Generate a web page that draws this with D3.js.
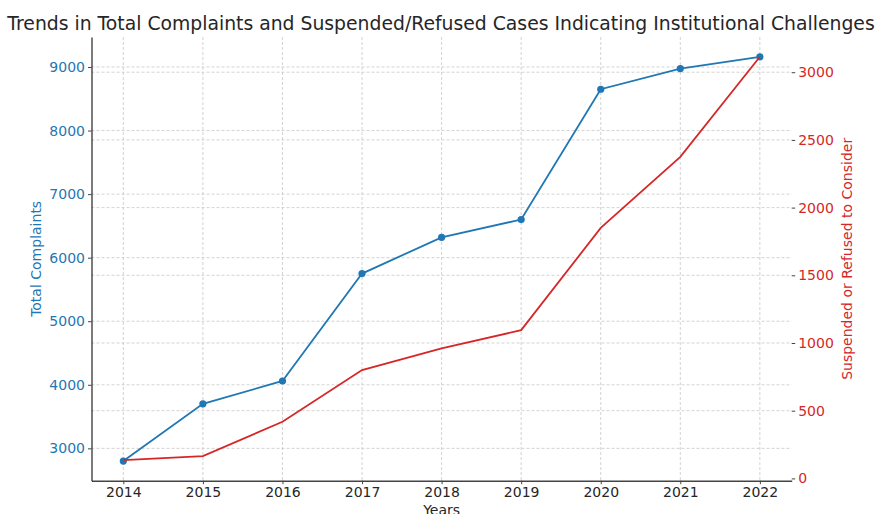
<!DOCTYPE html>
<html>
<head>
<meta charset="utf-8">
<script src="https://cdn.jsdelivr.net/npm/d3@7"></script>
<style>
  body { margin: 0; background: #fff; }
  svg { display: block; font-family: "DejaVu Sans", sans-serif; }
</style>
</head>
<body>
<svg id="chart" width="876" height="514"></svg>
<script>
const years = [2014, 2015, 2016, 2017, 2018, 2019, 2020, 2021, 2022];
const totalComplaints = [2800, 3700, 4060, 5750, 6320, 6600, 8650, 8975, 9160];
const suspendedRefused = [135, 165, 418, 800, 960, 1095, 1850, 2375, 3114];
const leftTicks = [3000, 4000, 5000, 6000, 7000, 8000, 9000];
const rightTicks = [0, 500, 1000, 1500, 2000, 2500, 3000];
const titleText = "Trends in Total Complaints and Suspended/Refused Cases Indicating Institutional Challenges";
const xLabel = "Years";
const leftLabel = "Total Complaints";
const rightLabel = "Suspended or Refused to Consider";

const blue = "#1f77b4", red = "#d62728";
const L = 91.5, R = 791.7, T = 37, B = 480.7;
const svg = d3.select("#chart");

const x = d3.scaleLinear().domain([2013.6, 2022.4]).range([L, R]);
const yL = d3.scaleLinear().domain([2491, 9472]).range([B, T]);
const yR = d3.scaleLinear().domain([-17, 3260]).range([B, T]);

// grids
const grid = svg.append("g").attr("stroke", "#c8c8c8").attr("stroke-width", 0.8).attr("stroke-dasharray", "3,2");
grid.selectAll("line.v").data(years).join("line")
  .attr("x1", d => x(d)).attr("x2", d => x(d)).attr("y1", T).attr("y2", B);
grid.selectAll("line.hl").data(leftTicks).join("line")
  .attr("x1", L).attr("x2", R).attr("y1", d => yL(d)).attr("y2", d => yL(d));
grid.selectAll("line.hr").data(rightTicks.filter(d => d > 0)).join("line")
  .attr("x1", L).attr("x2", R).attr("y1", d => yR(d)).attr("y2", d => yR(d));

// axes
const fs = "14px";
const xAxis = svg.append("g").attr("transform", `translate(0,${B})`)
  .call(d3.axisBottom(x).tickValues(years).tickFormat(d3.format("d")).tickSize(3.5).tickSizeOuter(0).tickPadding(3));
xAxis.select(".domain").attr("stroke", "#444").attr("stroke-width", 1.6);
xAxis.selectAll(".tick line").attr("stroke", "#444");
xAxis.selectAll("text").attr("fill", "#262626").style("font-size", fs).attr("font-family", "DejaVu Sans");

const yAxisL = svg.append("g").attr("transform", `translate(${L},0)`)
  .call(d3.axisLeft(yL).tickValues(leftTicks).tickFormat(d3.format("d")).tickSize(3.5).tickSizeOuter(0).tickPadding(3));
yAxisL.select(".domain").attr("stroke", "#222").attr("stroke-width", 1.2);
yAxisL.selectAll(".tick line").attr("stroke", "#444");
yAxisL.selectAll("text").attr("fill", blue).style("font-size", fs).attr("font-family", "DejaVu Sans");

const yAxisR = svg.append("g").attr("transform", `translate(${R},0)`)
  .call(d3.axisRight(yR).tickValues(rightTicks).tickFormat(d3.format("d")).tickSize(3.5).tickSizeOuter(0).tickPadding(3));
yAxisR.select(".domain").remove();
yAxisR.selectAll(".tick line").attr("stroke", "#444");
yAxisR.selectAll("text").attr("fill", red).style("font-size", fs).attr("font-family", "DejaVu Sans");

// lines
const lineL = d3.line().x((d, i) => x(years[i])).y(d => yL(d));
const lineR = d3.line().x((d, i) => x(years[i])).y(d => yR(d));

svg.append("path").datum(totalComplaints).attr("d", lineL)
  .attr("fill", "none").attr("stroke", blue).attr("stroke-width", 1.8);
svg.selectAll("circle.pt").data(totalComplaints).join("circle")
  .attr("cx", (d, i) => x(years[i])).attr("cy", d => yL(d)).attr("r", 3.6).attr("fill", blue);
svg.append("path").datum(suspendedRefused).attr("d", lineR)
  .attr("fill", "none").attr("stroke", red).attr("stroke-width", 1.8);

// texts
svg.append("text").attr("x", 441).attr("y", 30).attr("text-anchor", "middle")
  .style("font-size", "18.8px").attr("fill", "#262626").text(titleText);
svg.append("text").attr("x", (L + R) / 2).attr("y", 515).attr("text-anchor", "middle")
  .style("font-size", fs).attr("fill", "#262626").text(xLabel);
svg.append("text").attr("transform", `translate(41,${(T + B) / 2}) rotate(-90)`).attr("text-anchor", "middle")
  .style("font-size", fs).attr("fill", blue).text(leftLabel);
svg.append("text").attr("transform", `translate(852,${(T + B) / 2}) rotate(-90)`).attr("text-anchor", "middle")
  .style("font-size", fs).attr("fill", red).text(rightLabel);
</script>
</body>
</html>
